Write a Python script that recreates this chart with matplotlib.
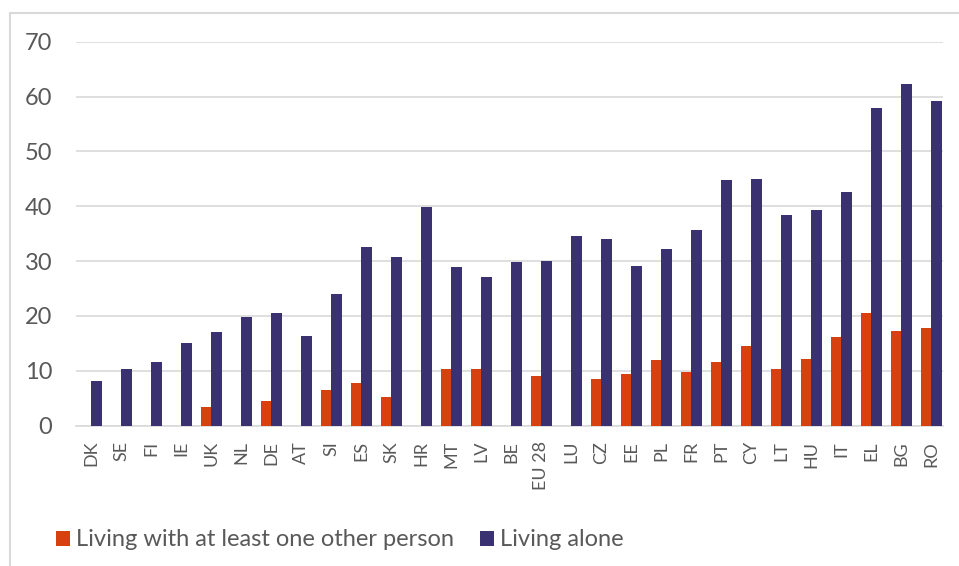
import numpy as np
import matplotlib.pyplot as plt
from matplotlib.lines import Line2D

# Data
countries = ['DK', 'SE', 'FI', 'IE', 'UK', 'NL', 'DE', 'AT', 'SI', 'ES', 'SK', 'HR',
             'MT', 'LV', 'BE', 'EU 28', 'LU', 'CZ', 'EE', 'PL', 'FR', 'PT', 'CY', 'LT',
             'HU', 'IT', 'EL', 'BG', 'RO']
with_others = [0, 0, 0, 0, 3.5, 0, 4.5, 0, 6.5, 7.7, 5.2, 0,
               10.3, 10.3, 0, 9.1, 0, 8.5, 9.5, 11.9, 9.7, 11.6, 14.5, 10.4,
               12.1, 16.2, 20.5, 17.3, 17.9]
alone = [8.1, 10.4, 11.7, 15.1, 17.1, 19.9, 20.5, 16.4, 24.0, 32.5, 30.8, 39.8,
         28.9, 27.1, 29.8, 30.0, 34.5, 34.0, 29.2, 32.3, 35.6, 44.8, 45.0, 38.4,
         39.3, 42.6, 57.9, 62.3, 59.2]

orange = '#D7400F'
navy = '#3A3270'
grey_text = '#595959'

plt.rcParams['font.family'] = ['Lato', 'DejaVu Sans']

W, H = 959, 566
fig = plt.figure(figsize=(W / 100, H / 100), dpi=100)
ax = fig.add_axes([76 / W, 1 - 425.7 / H, (943 - 76) / W, (425.7 - 41.7) / H])

x = np.arange(len(countries))
w = 0.35
b1 = ax.bar(x - w / 2, with_others, width=w, color=orange, label='Living with at least one other person', zorder=3)
b2 = ax.bar(x + w / 2, alone, width=w, color=navy, label='Living alone', zorder=3)

ax.set_xlim(-0.5, 28.4)
ax.set_ylim(0, 70)
ax.set_yticks(range(0, 71, 10))
ax.yaxis.grid(True, color='#D9D9D9', linewidth=1.2, zorder=0)
ax.set_axisbelow(True)
for s in ['top', 'right', 'left']:
    ax.spines[s].set_visible(False)
ax.spines['bottom'].set_color('#D9D9D9')
ax.spines['bottom'].set_linewidth(1.2)

ax.set_xticks(x)
ax.set_xticklabels(countries, rotation=90, fontsize=13, color=grey_text)
ax.tick_params(axis='x', length=0, pad=11)
ax.tick_params(axis='y', length=0, pad=17, labelsize=17, labelcolor=grey_text)

# light frame around the chart
fig.add_artist(Line2D([10 / W, 1], [1 - 13 / H, 1 - 13 / H], color='#D9D9D9', linewidth=1.5))
fig.add_artist(Line2D([10 / W, 10 / W], [0, 1 - 13 / H], color='#D9D9D9', linewidth=1.5))

fig.legend(handles=[b1, b2], loc='center left', bbox_to_anchor=(35 / W, 1 - 540 / H),
           ncol=2, frameon=False, fontsize=17, labelcolor=grey_text,
           handlelength=0.6, handleheight=0.6, handletextpad=0.25, columnspacing=1.1)

fig.savefig('out.png', dpi=100)
